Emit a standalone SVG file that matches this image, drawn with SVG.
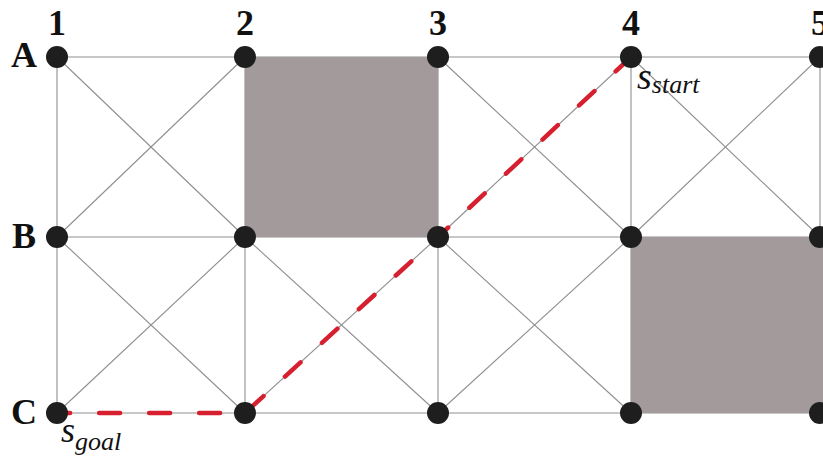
<svg xmlns="http://www.w3.org/2000/svg" width="823" height="461" viewBox="0 0 823 461">
<style>
.g{stroke:#8f8f8f;stroke-width:1.1;fill:none}
.obs{fill:#a39a9c}
.n{fill:#1e1e1e}
.lab{font-family:"Liberation Serif","Times New Roman",serif;font-weight:bold;font-size:36px;fill:#111}
.s{font-family:"Liberation Serif","Times New Roman",serif;font-style:italic;fill:#111}
.path{stroke:#d6202f;stroke-width:4.5;fill:none;stroke-dasharray:21 29;stroke-linecap:round}
</style>
<rect width="823" height="461" fill="#fff"/>
<g id="connectors">
<g class="g">
<line x1="57" y1="57" x2="823" y2="57"/>
<line x1="57" y1="237" x2="823" y2="237"/>
<line x1="57" y1="413" x2="823" y2="413"/>
<line x1="57" y1="57" x2="57" y2="413"/>
<line x1="245" y1="57" x2="245" y2="413"/>
<line x1="438" y1="57" x2="438" y2="413"/>
<line x1="631" y1="57" x2="631" y2="413"/>
<line x1="820" y1="57" x2="820" y2="413"/>
<line x1="57" y1="57" x2="245" y2="237"/>
<line x1="245" y1="57" x2="57" y2="237"/>
<line x1="438" y1="57" x2="631" y2="237"/>
<line x1="631" y1="57" x2="438" y2="237"/>
<line x1="631" y1="57" x2="820" y2="237"/>
<line x1="820" y1="57" x2="631" y2="237"/>
<line x1="57" y1="237" x2="245" y2="413"/>
<line x1="245" y1="237" x2="57" y2="413"/>
<line x1="245" y1="237" x2="438" y2="413"/>
<line x1="438" y1="237" x2="245" y2="413"/>
<line x1="438" y1="237" x2="631" y2="413"/>
<line x1="631" y1="237" x2="438" y2="413"/>
</g>
<rect class="obs" x="245" y="57" width="193" height="180"/>
<rect class="obs" x="631" y="237" width="192" height="176"/>
<polyline class="path" points="631,57 438,237 245,413 57,413"/>
</g>
<g id="nodes">
<g id="A1"><circle class="n" cx="57" cy="57" r="11"/></g>
<g id="A2"><circle class="n" cx="245" cy="57" r="11"/></g>
<g id="A3"><circle class="n" cx="438" cy="57" r="11"/></g>
<g id="A4"><circle class="n" cx="631" cy="57" r="11"/></g>
<g id="A5"><circle class="n" cx="820" cy="57" r="11"/></g>
<g id="B1"><circle class="n" cx="57" cy="237" r="11"/></g>
<g id="B2"><circle class="n" cx="245" cy="237" r="11"/></g>
<g id="B3"><circle class="n" cx="438" cy="237" r="11"/></g>
<g id="B4"><circle class="n" cx="631" cy="237" r="11"/></g>
<g id="B5"><circle class="n" cx="820" cy="237" r="11"/></g>
<g id="C1"><circle class="n" cx="57" cy="413" r="11"/></g>
<g id="C2"><circle class="n" cx="245" cy="413" r="11"/></g>
<g id="C3"><circle class="n" cx="438" cy="413" r="11"/></g>
<g id="C4"><circle class="n" cx="631" cy="413" r="11"/></g>
<g id="C5"><circle class="n" cx="820" cy="413" r="11"/></g>
</g>
<g id="labels">
<text class="lab" x="57" y="35" text-anchor="middle">1</text>
<text class="lab" x="245" y="35" text-anchor="middle">2</text>
<text class="lab" x="438" y="35" text-anchor="middle">3</text>
<text class="lab" x="631" y="35" text-anchor="middle">4</text>
<text class="lab" x="820" y="35" text-anchor="middle">5</text>
<text class="lab" x="24" y="67" text-anchor="middle">A</text>
<text class="lab" x="24" y="248" text-anchor="middle">B</text>
<text class="lab" x="24" y="424" text-anchor="middle">C</text>
<text class="s" x="637" y="89" font-size="38">s<tspan font-size="26" dy="4">start</tspan></text>
<text class="s" x="61" y="442" font-size="36">s<tspan font-size="26" dy="8">goal</tspan></text>
</g>
</svg>
